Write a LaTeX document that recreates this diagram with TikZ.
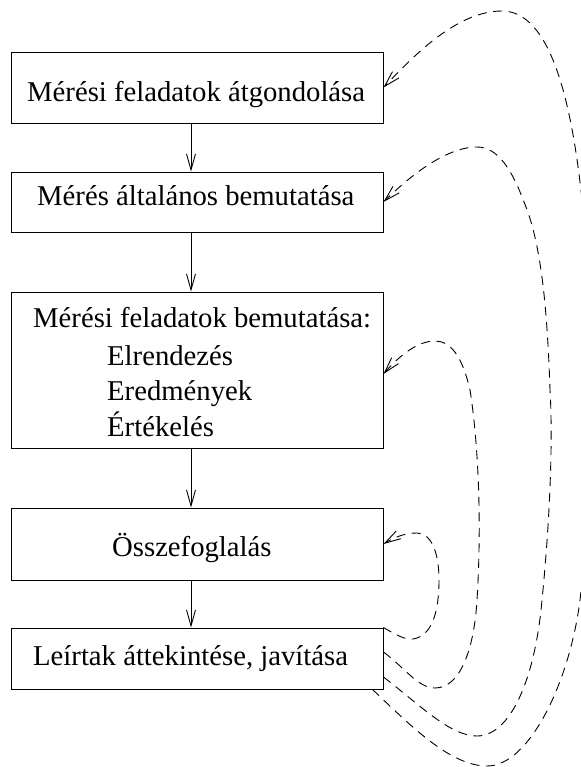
\documentclass[tikz,border=0pt]{standalone}
\usepackage{fontspec}
\setmainfont{Liberation Serif}
\usetikzlibrary{arrows.meta}
\begin{document}
\begin{tikzpicture}[x=1bp,y=-1bp,
  box/.style={draw, line width=0.9bp, minimum width=372bp, inner sep=0pt},
  lbl/.style={inner sep=0pt, anchor=base west, font=\fontsize{28.7bp}{36bp}\selectfont},
  arr/.style={line width=0.9bp, -{Straight Barb[length=16bp,width=9bp]}},
  fb/.style={line width=0.9bp, dash pattern=on 9bp off 6.5bp, -{Straight Barb[length=16bp,width=9bp]}}]
\useasboundingbox (0,0) rectangle (581,767);
% boxes
\node[box, minimum height=71bp]  (b1) at (197,87.5) {};
\node[box, minimum height=60bp]  (b2) at (197,202) {};
\node[box, minimum height=156bp] (b3) at (197,370) {};
\node[box, minimum height=72bp]  (b4) at (197,544) {};
\node[box, minimum height=61bp]  (b5) at (197,658.5) {};
% texts
\node[lbl] (t1) at (27,101) {Mérési feladatok átgondolása};
\node[lbl] (t2) at (37,205.7) {Mérés általános bemutatása};
\node[lbl] (t3a) at (33,327) {Mérési feladatok bemutatása:};
\node[lbl] (t3b) at (107,365) {Elrendezés};
\node[lbl] (t3c) at (107,400) {Eredmények};
\node[lbl] (t3d) at (107,436) {Értékelés};
\node[lbl] (t4) at (112,556.7) {Összefoglalás};
\node[lbl] (t5) at (33,665) {Leírtak áttekintése, javítása};
% main flow
\draw[arr] ([xshift=-6bp]b1.south) -- ([xshift=-6bp]b2.north);
\draw[arr] ([xshift=-6bp]b2.south) -- ([xshift=-6bp]b3.north);
\draw[arr] ([xshift=-6bp]b3.south) -- ([xshift=-6bp]b4.north);
\draw[arr] ([xshift=-6bp]b4.south) -- ([xshift=-6bp]b5.north);
% feedback loops
\draw[fb] (b5.north east) .. controls (398,636) and (406,640) .. (413,639)
  .. controls (432,636) and (439,612) .. (439,580)
  .. controls (439,550) and (430,533) .. (417,533)
  .. controls (405,533) and (395,537) .. (b4.east);
\draw[fb] ([yshift=6.5bp]b5.east) .. controls (405,668) and (418,688) .. (435,688)
  .. controls (460,688) and (474,650) .. (477,600)
  .. controls (482,520) and (478,440) .. (470,390)
  .. controls (462,355) and (450,341) .. (435,341)
  .. controls (418,341) and (400,355) .. ([yshift=-4bp]b3.east);
\draw[fb] ([yshift=-18.5bp]b5.east) .. controls (420,705) and (450,736) .. (477,736)
  .. controls (510,736) and (535,680) .. (542,600)
  .. controls (550,520) and (553,440) .. (550,390)
  .. controls (547,300) and (540,240) .. (524,202)
  .. controls (512,170) and (498,147) .. (477,147)
  .. controls (445,147) and (408,178) .. (b2.east);
\draw[fb] ([xshift=-11bp]b5.south east) .. controls (410,725) and (450,766) .. (487,766)
  .. controls (530,766) and (570,680) .. (580,600)
  .. controls (592,500) and (595,300) .. (580,182)
  .. controls (570,100) and (550,11) .. (502,11)
  .. controls (455,11) and (410,60) .. (b1.east);
\end{tikzpicture}
\end{document}
